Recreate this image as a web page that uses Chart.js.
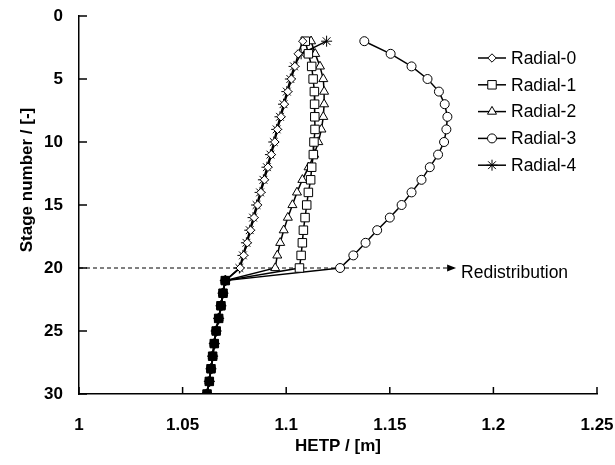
<!DOCTYPE html>
<html><head><meta charset="utf-8">
<script src="https://cdn.jsdelivr.net/npm/chart.js@4"></script>
<style>html,body{margin:0;padding:0;background:#fff}#wrap{width:615px;height:465px}</style>
</head><body><div id="wrap"><canvas id="c" width="615" height="465"></canvas></div>
<script>
// ---- data ----
const stages = [2,3,4,5,6,7,8,9,10,11,12,13,14,15,16,17,18,19,20,21,22,23,24,25,26,27,28,29,30];
const radial0 = [1.1080,1.1058,1.1042,1.1025,1.1008,1.0991,1.0975,1.0958,1.0945,1.0928,1.0912,1.0895,1.0878,1.0862,1.0845,1.0828,1.0812,1.0795,1.0778,
                 1.0706,1.0695,1.0685,1.0674,1.0662,1.0653,1.0645,1.0637,1.0629,1.0618];
const radial1 = [1.1092,1.1107,1.1123,1.1130,1.1136,1.1137,1.1138,1.1139,1.1134,1.1131,1.1123,1.1118,1.1107,1.1099,1.1091,1.1083,1.1078,1.1072,1.1064,
                 1.0706,1.0695,1.0685,1.0674,1.0662,1.0653,1.0645,1.0637,1.0629,1.0618];
const radial2 = [1.1120,1.1140,1.1163,1.1179,1.1183,1.1183,1.1179,1.1170,1.1155,1.1135,1.1108,1.1078,1.1052,1.1030,1.1008,1.0988,1.0971,1.0957,1.0947,
                 1.0706,1.0695,1.0685,1.0674,1.0662,1.0653,1.0645,1.0637,1.0629,1.0618];
const radial3 = [1.1377,1.1504,1.1605,1.1682,1.1737,1.1765,1.1778,1.1773,1.1762,1.1733,1.1693,1.1653,1.1605,1.1557,1.1500,1.1439,1.1383,1.1324,1.1260,
                 1.0706,1.0695,1.0685,1.0674,1.0662,1.0653,1.0645,1.0637,1.0629,1.0618];
const radial4 = [1.1195,1.1072,1.1038,1.1020,1.1003,1.0987,1.0970,1.0954,1.0940,1.0924,1.0907,1.0890,1.0874,1.0857,1.0840,1.0824,1.0808,1.0791,1.0774,
                 1.0706,1.0695,1.0685,1.0674,1.0662,1.0653,1.0645,1.0637,1.0629,1.0618];
const seriesLabels = ['Radial-0','Radial-1','Radial-2','Radial-3','Radial-4'];
const xTickLabels = ['1','1.05','1.1','1.15','1.2','1.25'];
const yTickLabels = ['0','5','10','15','20','25','30'];
const xTitle = 'HETP / [m]';
const yTitle = 'Stage number / [-]';
const redistStage = 20;
const redistFrom = 1.0;
const redistTo = 1.182;
const redistLabel = 'Redistribution';
const sharedFromStage = 21;

// ---- chart ----
const seriesValues = [radial0, radial1, radial2, radial3, radial4];
const pointStyles = ['rectRot','rect','triangle','circle','star'];
const pointRadii = [4.2, 6, 5.2, 4.5, 5.5];
const FONT = '"Liberation Sans", Arial, sans-serif';

const datasets = seriesValues.map((vals, i) => ({
  label: seriesLabels[i],
  data: stages.map((s, k) => ({x: vals[k], y: s})),
  borderColor: '#000',
  borderWidth: 1.5,
  pointStyle: pointStyles[i],
  pointRadius: pointRadii[i],
  pointBorderColor: '#000',
  pointBorderWidth: 1,
  pointBackgroundColor: ctx => (stages[ctx.dataIndex] >= sharedFromStage ? '#000' : '#fff'),
  tension: 0,
  order: 1
}));
datasets.push({
  label: '__redist',
  data: [{x: redistFrom, y: redistStage}, {x: redistTo, y: redistStage}],
  borderColor: '#000',
  borderWidth: 1,
  borderDash: [4, 3],
  pointRadius: 0,
  order: 10
});

function drawMarker(ctx, style, r, x, y, fill) {
  ctx.save();
  ctx.fillStyle = fill; ctx.strokeStyle = '#000'; ctx.lineWidth = 1;
  ctx.beginPath();
  if (style === 'circle') { ctx.arc(x, y, r, 0, Math.PI * 2); ctx.fill(); ctx.stroke(); }
  else if (style === 'rect') { const s = r * Math.SQRT1_2; ctx.rect(x - s, y - s, 2 * s, 2 * s); ctx.fill(); ctx.stroke(); }
  else if (style === 'rectRot') { ctx.moveTo(x, y - r); ctx.lineTo(x + r, y); ctx.lineTo(x, y + r); ctx.lineTo(x - r, y); ctx.closePath(); ctx.fill(); ctx.stroke(); }
  else if (style === 'triangle') {
    ctx.moveTo(x, y - r); ctx.lineTo(x + r * Math.sin(2.0944), y - r * Math.cos(2.0944));
    ctx.lineTo(x + r * Math.sin(4.1888), y - r * Math.cos(4.1888)); ctx.closePath(); ctx.fill(); ctx.stroke();
  } else if (style === 'star') {
    for (let a = 0; a < 4; a++) { const t = a * Math.PI / 4; ctx.moveTo(x - r * Math.cos(t), y - r * Math.sin(t)); ctx.lineTo(x + r * Math.cos(t), y + r * Math.sin(t)); }
    ctx.stroke();
  }
  ctx.restore();
}

const decorPlugin = {
  id: 'decor',
  afterDatasetsDraw(chart) {
    const ctx = chart.ctx;
    const xs = chart.scales.x, ys = chart.scales.y;
    const area = chart.chartArea;
    ctx.save();
    ctx.strokeStyle = '#000'; ctx.lineWidth = 1.5;
    // inward tick marks
    xs.ticks.forEach(t => { const px = xs.getPixelForValue(t.value); ctx.beginPath(); ctx.moveTo(px, area.bottom); ctx.lineTo(px, area.bottom - 7); ctx.stroke(); });
    ys.ticks.forEach(t => { const py = ys.getPixelForValue(t.value); ctx.beginPath(); ctx.moveTo(area.left, py); ctx.lineTo(area.left + 8, py); ctx.stroke(); });
    // arrow head + label
    const ax = xs.getPixelForValue(redistTo), ay = ys.getPixelForValue(redistStage);
    ctx.fillStyle = '#000';
    ctx.beginPath(); ctx.moveTo(ax, ay); ctx.lineTo(ax - 9, ay - 3.5); ctx.lineTo(ax - 9, ay + 3.5); ctx.closePath(); ctx.fill();
    ctx.font = '17.5px ' + FONT; ctx.textAlign = 'left'; ctx.textBaseline = 'middle';
    ctx.fillText(redistLabel, ax + 5, ay + 5);
    // legend
    const lx0 = 478, lx1 = 506, ly0 = 58, dy = 26.8;
    seriesLabels.forEach((lab, i) => {
      const y = ly0 + i * dy;
      ctx.strokeStyle = '#000'; ctx.lineWidth = 1.5;
      ctx.beginPath(); ctx.moveTo(lx0, y); ctx.lineTo(lx1, y); ctx.stroke();
      drawMarker(ctx, pointStyles[i], pointRadii[i], (lx0 + lx1) / 2, y, '#fff');
      ctx.fillStyle = '#000'; ctx.font = '17.5px ' + FONT; ctx.textAlign = 'left'; ctx.textBaseline = 'middle';
      ctx.fillText(lab, 511, y + 1);
    });
    // y title
    ctx.translate(27, 180); ctx.rotate(-Math.PI / 2);
    ctx.font = 'bold 17px ' + FONT; ctx.textAlign = 'center'; ctx.textBaseline = 'middle';
    ctx.fillText(yTitle, 0, 0);
    ctx.restore();
  }
};

new Chart(document.getElementById('c'), {
  type: 'line',
  data: {datasets},
  plugins: [decorPlugin],
  options: {
    responsive: false,
    animation: false,
    devicePixelRatio: 1,
    layout: {padding: {left: 0, right: 18, top: 16, bottom: 0}},
    plugins: {legend: {display: false}, tooltip: {enabled: false}},
    scales: {
      x: {
        type: 'linear', min: 1, max: 1.25,
        afterFit: s => { s.height = 71; s.paddingLeft = 0; s.paddingRight = 0; },
        grid: {display: true, drawOnChartArea: false, drawTicks: false},
        border: {display: true, color: '#000', width: 1.5},
        ticks: {stepSize: 0.05, padding: 21, color: '#000', font: {family: FONT, size: 17, weight: 'bold'},
                maxRotation: 0, callback: (v, i) => xTickLabels[i]},
        title: {display: true, text: xTitle, color: '#000', font: {family: FONT, size: 17, weight: 'bold'}, padding: {top: 0, bottom: 8}}
      },
      y: {
        type: 'linear', min: 0, max: 30, reverse: true,
        afterFit: s => { s.width = 79; s.paddingTop = 0; s.paddingBottom = 0; },
        grid: {display: true, drawOnChartArea: false, drawTicks: false},
        border: {display: true, color: '#000', width: 1.5},
        ticks: {stepSize: 5, padding: 16, color: '#000', font: {family: FONT, size: 17, weight: 'bold'},
                callback: v => yTickLabels.find(l => Number(l) === v)}
      }
    }
  }
});
</script></body></html>
